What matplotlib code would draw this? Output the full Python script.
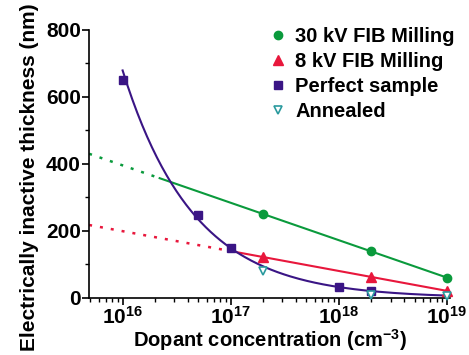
import numpy as np
import matplotlib
matplotlib.use('Agg')
import matplotlib.pyplot as plt
from matplotlib.ticker import LogLocator, MultipleLocator, NullFormatter

plt.rcParams['font.family'] = ['Liberation Sans', 'DejaVu Sans']
plt.rcParams['font.weight'] = 'bold'
plt.rcParams['mathtext.fontset'] = 'custom'
plt.rcParams['mathtext.rm'] = 'Liberation Sans:bold'
plt.rcParams['mathtext.bf'] = 'Liberation Sans:bold'
plt.rcParams['mathtext.it'] = 'Liberation Sans:bold'
plt.rcParams['mathtext.default'] = 'bf'

# data
conc_30kv = [2e17, 2e18, 1e19]
thick_30kv = [250, 140, 60]

conc_8kv = [2e17, 2e18, 1e19]
thick_8kv = [122, 63, 21]

conc_perfect = [1e16, 5e16, 1e17, 1e18, 2e18]
thick_perfect = [650, 248, 150, 33, 20]

conc_anneal = [2e17, 2e18, 1e19]
thick_anneal = [80, 8, 5]

green = '#0a9a3c'
red = '#e8173c'
purple = '#3a1585'
teal = '#2a9a9e'

fig = plt.figure(figsize=(4.69, 3.55), dpi=100)
ax = fig.add_axes([0.19, 0.1606, 0.77, 0.755])

# fits vs log(conc)
xmin, xmax = 4.9e15, 1.07e19
def linfit(xs, ys):
    return np.polyfit(np.log10(xs), ys, 1)

pg = linfit(conc_30kv, thick_30kv)
pr = linfit(conc_8kv, thick_8kv)
pp = np.polyfit(np.log10(conc_perfect), np.log10(thick_perfect), 1)

def line(p, a, b):
    lx = np.linspace(np.log10(a), np.log10(b), 50)
    return 10 ** lx, np.polyval(p, lx)

dot = (0, (1.2, 3.2))
x, y = line(pg, xmin, 2.2e16)
ax.plot(x, y, color=green, lw=1.8, ls=dot, zorder=2)
x, y = line(pg, 2.2e16, 1e19)
ax.plot(x, y, color=green, lw=1.5, zorder=2)
x, y = line(pr, xmin, 1e17)
ax.plot(x, y, color=red, lw=1.8, ls=dot, zorder=2)
x, y = line(pr, 1e17, 1e19)
ax.plot(x, y, color=red, lw=1.5, zorder=2)
lx = np.linspace(16, 19, 200)
ax.plot(10 ** lx, 10 ** np.polyval(pp, lx), color=purple, lw=1.5, zorder=2)

ax.plot(conc_30kv, thick_30kv, 'o', color=green, ms=6, ls='none',
        label='30 kV FIB Milling', zorder=4, clip_on=False)
ax.plot(conc_8kv, thick_8kv, '^', color=red, ms=6.5, ls='none',
        label='8 kV FIB Milling', zorder=4, clip_on=False)
ax.plot(conc_perfect, thick_perfect, 's', color=purple, ms=5.5, ls='none',
        label='Perfect sample', zorder=3, clip_on=False)
ax.plot(conc_anneal, thick_anneal, 'v', mfc='white', mec=teal, mew=1.2, ms=6,
        ls='none', label='Annealed', zorder=5, clip_on=False)

ax.set_xscale('log')
ax.set_xlim(xmin, xmax)
ax.set_ylim(0, 800)
ax.xaxis.set_major_locator(LogLocator(base=10, numticks=10))
ax.xaxis.set_minor_locator(LogLocator(base=10, subs=np.arange(2, 10), numticks=20))
ax.xaxis.set_minor_formatter(NullFormatter())
ax.yaxis.set_major_locator(MultipleLocator(200))
ax.yaxis.set_minor_locator(MultipleLocator(100))

for s in ['top', 'right']:
    ax.spines[s].set_visible(False)
for s in ['left', 'bottom']:
    ax.spines[s].set_linewidth(1.2)
ax.tick_params(which='major', length=5, width=1.2, labelsize=15, pad=1)
ax.tick_params(which='minor', length=3, width=1)

ax.set_xlabel('Dopant concentration (cm$^{-3}$)', fontsize=14.5, fontweight='bold', labelpad=-1)
ax.set_ylabel('Electrically inactive thickness (nm)', fontsize=15, fontweight='bold')
ax.yaxis.set_label_coords(-0.14, 0.45)

leg = ax.legend(loc='upper right', bbox_to_anchor=(1.035, 1.04), frameon=False,
                fontsize=14.5, handlelength=0.8, handletextpad=0.45, labelspacing=0.3,
                borderaxespad=0)

fig.savefig('out.png', dpi=100)
